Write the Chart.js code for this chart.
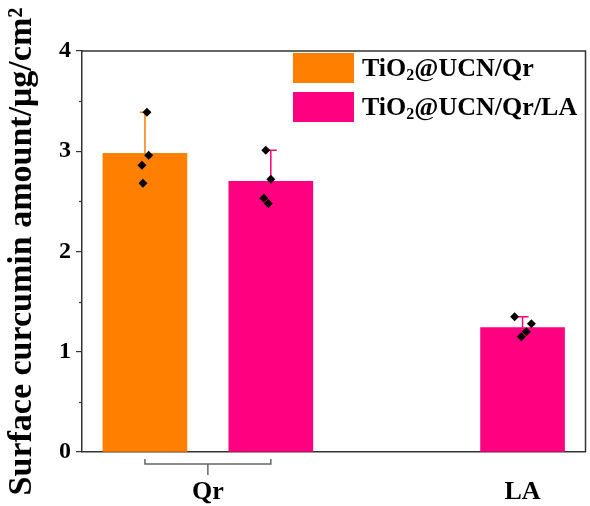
<!DOCTYPE html>
<html lang="en">
<head>
  <meta charset="UTF-8">
  <title>Surface curcumin amount</title>
  <style>
    body { margin: 0; background: #fff; }
    canvas { display: block; }
  </style>
</head>
<body>
<canvas id="grafico" width="590" height="506"></canvas>

<script src="https://cdn.jsdelivr.net/npm/chart.js"></script>
<script>
  // group labels under the x axis and where they sit
  const groups = ['Qr', 'LA'];
  const groupPos = [0.5, 3];

  const seriesNames = ['TiO₂@UCN/Qr', 'TiO₂@UCN/Qr/LA'];
  const seriesColors = ['#FF8000', '#FF0080'];

  // TiO2@UCN/Qr
  const qrX = [0];
  const qrMean = [2.98];
  const qrErr = [0.41];
  const qrPts = [[3.39, 2.96, 2.86, 2.68]];
  const qrJit = [[0.016, 0.03, -0.024, -0.016]];

  // TiO2@UCN/Qr/LA
  const laX = [1, 3];
  const laMean = [2.70, 1.24];
  const laErr = [0.31, 0.11];
  const laPts = [[3.01, 2.72, 2.53, 2.48], [1.35, 1.28, 1.20, 1.15]];
  const laJit = [[-0.04, 0, -0.055, -0.02], [-0.063, 0.07, 0.03, -0.01]];

  const yTicks = [0, 1, 2, 3, 4];
  const yMinor = [0.5, 1.5, 2.5, 3.5];

  const serif = "'Liberation Serif', 'Times New Roman', serif";

  const toXY = (xs, ys) => xs.map((x, i) => ({ x: x, y: ys[i] }));
  const puntos = [];
  [[qrX, qrPts, qrJit], [laX, laPts, laJit]].forEach(([xs, pts, jit]) => {
    xs.forEach((x, i) => {
      pts[i].forEach((v, j) => puntos.push({ x: x + jit[i][j], y: v }));
    });
  });

  const errores = [
    { xs: qrX, mean: qrMean, err: qrErr, color: seriesColors[0] },
    { xs: laX, mean: laMean, err: laErr, color: seriesColors[1] }
  ];

  // error bars (upper half only, the bar hides the rest)
  const errorPlugin = {
    id: 'errores',
    beforeDatasetsDraw(chart) {
      const ctx = chart.ctx;
      const xs = chart.scales.x, ys = chart.scales.y;
      ctx.save();
      errores.forEach(s => {
        ctx.strokeStyle = s.color;
        ctx.lineWidth = 1.5;
        s.xs.forEach((x, i) => {
          const px = xs.getPixelForValue(x);
          const top = ys.getPixelForValue(s.mean[i] + s.err[i]);
          const base = ys.getPixelForValue(s.mean[i]);
          ctx.beginPath();
          ctx.moveTo(px, base);
          ctx.lineTo(px, top);
          ctx.moveTo(px - 5, top);
          ctx.lineTo(px + 6, top);
          ctx.stroke();
        });
      });
      ctx.restore();
    }
  };

  // frame, minor ticks, bracket, legend
  const decoPlugin = {
    id: 'deco',
    afterDraw(chart) {
      const ctx = chart.ctx;
      const a = chart.chartArea;
      const xs = chart.scales.x, ys = chart.scales.y;
      ctx.save();
      ctx.strokeStyle = '#333';
      ctx.lineWidth = 1.5;
      ctx.beginPath();
      ctx.moveTo(a.left, a.top);
      ctx.lineTo(a.right, a.top);
      ctx.lineTo(a.right, a.bottom);
      ctx.stroke();

      ctx.lineWidth = 1.2;
      yMinor.forEach(v => {
        const py = Math.round(ys.getPixelForValue(v)) + 0.5;
        ctx.beginPath();
        ctx.moveTo(a.left - 3, py);
        ctx.lineTo(a.left, py);
        ctx.stroke();
      });

      // bracket joining the two Qr bars
      const x0 = xs.getPixelForValue(qrX[0]);
      const x1 = xs.getPixelForValue(laX[0]);
      const by = a.bottom + 12;
      ctx.strokeStyle = '#666';
      ctx.lineWidth = 1.5;
      ctx.beginPath();
      ctx.moveTo(x0, by - 5);
      ctx.lineTo(x0, by);
      ctx.lineTo(x1, by);
      ctx.lineTo(x1, by - 5);
      ctx.moveTo((x0 + x1) / 2, by);
      ctx.lineTo((x0 + x1) / 2, by + 11);
      ctx.stroke();

      // legend
      const lx = 293, ly = 53;
      seriesNames.forEach((name, i) => {
        const y = ly + i * 39;
        ctx.fillStyle = seriesColors[i];
        ctx.fillRect(lx, y, 61, 30);
        ctx.fillStyle = '#000';
        ctx.textBaseline = 'middle';
        let tx = lx + 69;
        const ty = y + 16;
        name.split('₂').forEach((part, k) => {
          if (k > 0) {
            ctx.font = 'bold 16px ' + serif;
            ctx.fillText('2', tx, ty + 7);
            tx += ctx.measureText('2').width;
          }
          ctx.font = 'bold 26px ' + serif;
          ctx.fillText(part, tx, ty);
          tx += ctx.measureText(part).width;
        });
      });
      ctx.restore();
    }
  };

  new Chart(document.getElementById('grafico').getContext('2d'), {
    type: 'bar',
    data: {
      datasets: [
        {
          type: 'scatter',
          label: 'puntos',
          data: puntos,
          pointStyle: 'rectRot',
          pointRadius: 4.5,
          backgroundColor: '#000',
          borderColor: '#000',
          borderWidth: 0,
          order: 0
        },
        {
          label: seriesNames[0],
          data: toXY(qrX, qrMean),
          backgroundColor: seriesColors[0],
          barThickness: 84,
          grouped: false,
          order: 1
        },
        {
          label: seriesNames[1],
          data: toXY(laX, laMean),
          backgroundColor: seriesColors[1],
          barThickness: 84,
          grouped: false,
          order: 1
        }
      ]
    },
    options: {
      responsive: false,
      animation: false,
      devicePixelRatio: 1,
      layout: { padding: { top: 51, right: 2, left: 0, bottom: 0 } },
      plugins: {
        legend: { display: false },
        tooltip: { enabled: false }
      },
      scales: {
        x: {
          type: 'linear',
          min: -0.5,
          max: 3.5,
          offset: false,
          afterBuildTicks: axis => { axis.ticks = groupPos.map(v => ({ value: v })); },
          afterFit: axis => { axis.height = 54; },
          grid: { display: false, drawTicks: false },
          border: { display: true, color: '#333', width: 1.5 },
          ticks: {
            padding: 25,
            color: '#000',
            maxRotation: 0,
            autoSkip: false,
            font: { family: serif, size: 26, weight: 'bold' },
            callback: (v, i) => groups[i]
          }
        },
        y: {
          min: 0,
          max: 4,
          afterBuildTicks: axis => { axis.ticks = yTicks.map(v => ({ value: v })); },
          afterFit: axis => { axis.width = 82; },
          grid: { drawOnChartArea: false, drawTicks: true, tickLength: 6, color: '#333', lineWidth: 1.2 },
          border: { display: true, color: '#333', width: 1.5 },
          ticks: {
            padding: 5,
            color: '#000',
            font: { family: serif, size: 24, weight: 'bold' }
          },
          title: {
            display: true,
            text: 'Surface curcumin amount/μg/cm²',
            color: '#000',
            padding: { top: 2, bottom: 0 },
            font: { family: serif, size: 34, weight: 'bold' }
          }
        }
      }
    },
    plugins: [errorPlugin, decoPlugin]
  });
</script>
</body>
</html>
